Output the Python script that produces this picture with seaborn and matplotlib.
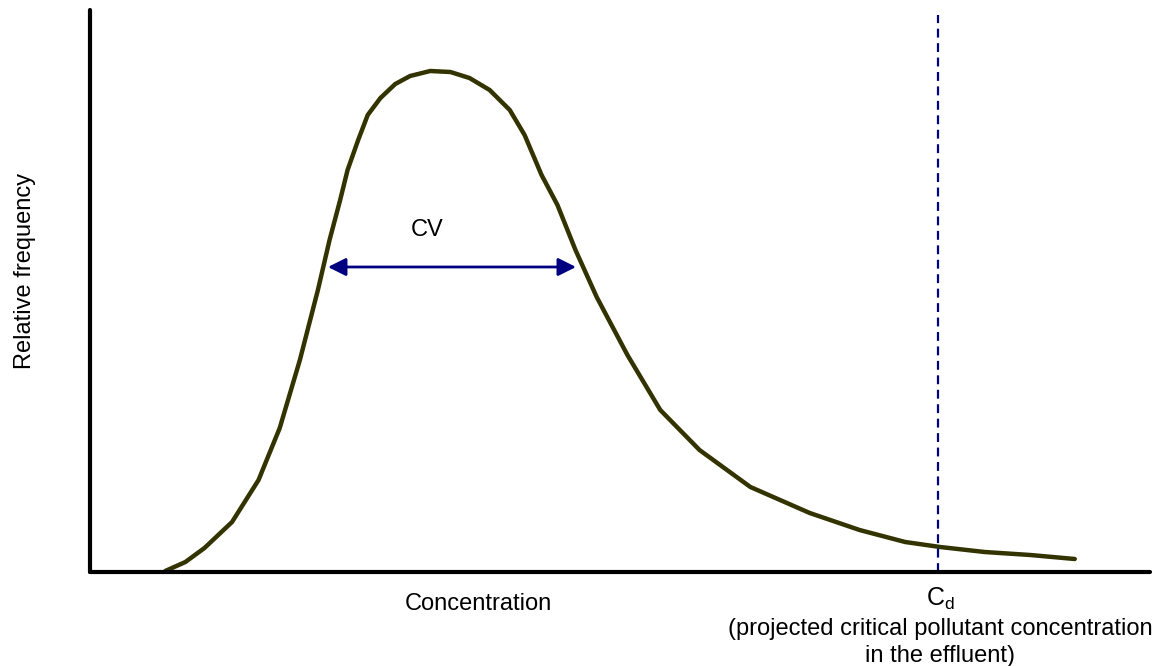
import matplotlib
matplotlib.use('Agg')
import matplotlib.pyplot as plt
import pandas as pd
import seaborn as sns

# concentration (arbitrary units) and relative frequency
concentration = [7.1, 9.0, 10.8, 13.4, 15.9, 17.9, 19.8, 21.5, 22.6, 23.6, 24.3, 25.3,
                 26.2, 27.4, 28.8, 30.2, 32.1, 34.0, 35.8, 37.7, 39.6, 41.0, 42.6, 44.1,
                 45.8, 47.8, 50.7, 53.8, 57.5, 62.3, 67.9, 72.6, 76.9, 80.2, 84.4, 88.7, 92.9]
frequency = [0.2, 2.0, 4.8, 10.0, 18.4, 28.8, 42.4, 56.4, 66.4, 74.4, 80.4, 86.4,
             91.4, 94.8, 97.6, 99.2, 100.2, 100.0, 98.8, 96.4, 92.4, 87.4, 79.4, 73.4,
             64.4, 55.0, 43.4, 32.4, 24.4, 17.0, 11.8, 8.4, 6.0, 5.0, 4.0, 3.4, 2.6]
cv_left, cv_right, cv_level = 22.45, 45.85, 61.0
c_d = 80.0

sns.set_style('white')
plt.rcParams['font.family'] = ['Liberation Sans', 'DejaVu Sans']
plt.rcParams['mathtext.fontset'] = 'custom'
plt.rcParams['mathtext.rm'] = 'Liberation Sans'
plt.rcParams['text.color'] = 'black'
plt.rcParams['axes.labelcolor'] = 'black'

df = pd.DataFrame({'Concentration': concentration, 'Frequency': frequency})

fig = plt.figure(figsize=(11.63, 6.66), dpi=100)
ax = fig.add_axes([90 / 1163, 94 / 666, 1060 / 1163, 562 / 666])

sns.lineplot(data=df, x='Concentration', y='Frequency', ax=ax, color='#333300',
             linewidth=3.2, sort=False, solid_capstyle='round', solid_joinstyle='round')

ax.vlines(c_d, 0, 111.4, colors='#000080', linestyles=(0, (4, 2.5)), linewidth=1.6)

ax.annotate('', xy=(cv_left, cv_level), xytext=(cv_right, cv_level),
            arrowprops=dict(arrowstyle='<|-|>', color='#000080', lw=2,
                            mutation_scale=27, shrinkA=0, shrinkB=0))
ax.text(31.8, 68.4, 'CV', fontsize=17, ha='center', va='center')

ax.set_xlim(0, 100)
ax.set_ylim(0, 112.4)
ax.set_xticks([])
ax.set_yticks([])
sns.despine(ax=ax)
for s in ['left', 'bottom']:
    ax.spines[s].set_linewidth(3)
    ax.spines[s].set_color('black')
    ax.spines[s].set_capstyle('round')

ax.set_xlabel('')
ax.set_ylabel('Relative frequency', fontsize=17)
ax.yaxis.set_label_coords(-0.051, 0.536)

ax.text(36.6, -6.4, 'Concentration', fontsize=17, ha='center', va='center', clip_on=False)
ax.text(80.2, -5.4, r'C$_\mathrm{d}$', fontsize=18, ha='center', va='center', clip_on=False)
ax.text(80.2, -11.4, '(projected critical pollutant concentration', fontsize=17,
        ha='center', va='center', clip_on=False)
ax.text(80.2, -16.8, 'in the effluent)', fontsize=17, ha='center', va='center', clip_on=False)

fig.savefig('out.png', dpi=100)
